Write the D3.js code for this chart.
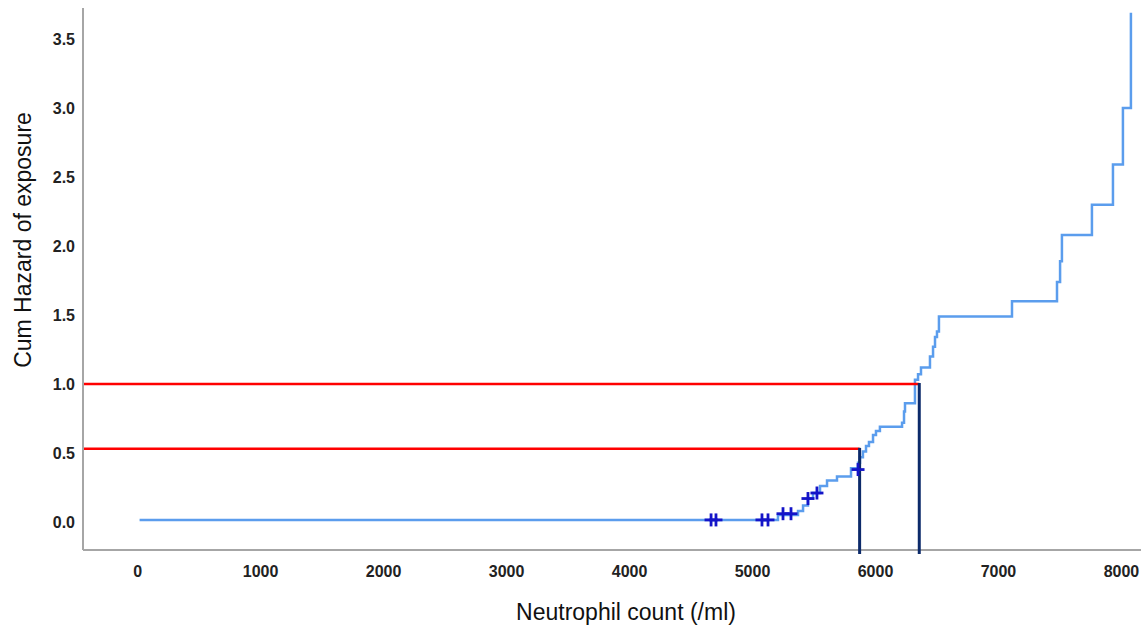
<!DOCTYPE html>
<html>
<head>
<meta charset="utf-8">
<script src="https://cdn.jsdelivr.net/npm/d3@7"></script>
<style>
  html, body { margin: 0; padding: 0; background: #ffffff; }
  svg { display: block; }
</style>
</head>
<body>
<svg id="chart" width="1141" height="631"></svg>
<script>
// ---- Data ----
// Step points of the cumulative hazard curve: neutrophil count and hazard after the step
const stepCounts  = [20, 5211, 5374, 5415, 5455, 5496, 5553, 5610, 5691, 5805, 5862, 5878, 5902, 5927, 5951, 5984, 6008, 6040, 6220, 6236, 6244, 6325, 6350, 6374, 6447, 6472, 6488, 6504, 6520, 7114, 7480, 7505, 7520, 7764, 7935, 8016, 8081];
const stepHazards = [0.015, 0.05, 0.08, 0.12, 0.17, 0.21, 0.26, 0.30, 0.33, 0.39, 0.43, 0.47, 0.51, 0.55, 0.58, 0.63, 0.66, 0.69, 0.72, 0.80, 0.86, 1.03, 1.07, 1.12, 1.20, 1.27, 1.34, 1.38, 1.49, 1.60, 1.74, 1.89, 2.08, 2.30, 2.59, 3.00, 3.69];
// Censored observations
const censorCounts  = [4667, 4707, 5081, 5130, 5252, 5317, 5455, 5528, 5862];
const censorHazards = [0.015, 0.015, 0.015, 0.015, 0.06, 0.06, 0.17, 0.21, 0.38];
// Reference (annotation) lines
const refCounts  = [5875, 6360];
const refHazards = [0.53, 1.0];
// Ticks
const xTicks = [0, 1000, 2000, 3000, 4000, 5000, 6000, 7000, 8000];
const yTicks = [0.0, 0.5, 1.0, 1.5, 2.0, 2.5, 3.0, 3.5];
const xTitle = "Neutrophil count (/ml)";
const yTitle = "Cum Hazard of exposure";

// ---- Layout ----
const svg = d3.select("#chart");
const mLeft = 83, mRight = 1141, mTop = 8, mBottom = 550;
const x = d3.scaleLinear().domain([-440, 8163]).range([mLeft, mRight]);
const y = d3.scaleLinear().domain([-0.203, 3.725]).range([mBottom, mTop]);

// Axes
const axisColor = "#a6a6a6";
const xAxis = d3.axisBottom(x).tickValues(xTicks).tickSize(0).tickPadding(16).tickFormat(d3.format("d"));
const yAxis = d3.axisLeft(y).tickValues(yTicks).tickSize(0).tickPadding(8).tickFormat(d3.format(".1f"));

const gx = svg.append("g").attr("transform", `translate(0,${mBottom})`).call(xAxis);
const gy = svg.append("g").attr("transform", `translate(${mLeft},0)`).call(yAxis);
[gx, gy].forEach(g => {
  g.select(".domain").remove();
  g.selectAll("text")
    .attr("font-family", "Liberation Sans, Arial, sans-serif")
    .attr("font-weight", "bold")
    .attr("font-size", 16)
    .attr("fill", "#222222");
});
gy.selectAll("text").attr("dy", "0.36em");

// axis lines
svg.append("line").attr("x1", mLeft).attr("x2", mLeft).attr("y1", mTop).attr("y2", mBottom)
  .attr("stroke", axisColor).attr("stroke-width", 2);
svg.append("line").attr("x1", mLeft).attr("x2", mRight).attr("y1", mBottom).attr("y2", mBottom)
  .attr("stroke", axisColor).attr("stroke-width", 2);

// ---- Curve ----
const pts = stepCounts.map((c, i) => [c, stepHazards[i]]);
const line = d3.line().x(d => x(d[0])).y(d => y(d[1])).curve(d3.curveStepAfter);
svg.append("path")
  .datum(pts)
  .attr("d", line)
  .attr("fill", "none")
  .attr("stroke", "#5b9ded")
  .attr("stroke-width", 2.5);

// ---- Reference lines ----
refCounts.forEach((c, i) => {
  svg.append("line")
    .attr("x1", mLeft + 1).attr("x2", x(c))
    .attr("y1", y(refHazards[i])).attr("y2", y(refHazards[i]))
    .attr("stroke", "#ff0000").attr("stroke-width", 2.5);
});
refCounts.forEach((c, i) => {
  svg.append("line")
    .attr("x1", x(c)).attr("x2", x(c))
    .attr("y1", y(refHazards[i]) - 1).attr("y2", mBottom + 4)
    .attr("stroke", "#0c2a6a").attr("stroke-width", 3);
});

// ---- Censor marks ----
const cg = svg.append("g");
censorCounts.forEach((c, i) => {
  const cx = x(c), cy = y(censorHazards[i]);
  cg.append("line").attr("x1", cx - 6.5).attr("x2", cx + 6.5).attr("y1", cy).attr("y2", cy)
    .attr("stroke", "#1414c8").attr("stroke-width", 2.8);
  cg.append("line").attr("x1", cx).attr("x2", cx).attr("y1", cy - 6.5).attr("y2", cy + 6.5)
    .attr("stroke", "#1414c8").attr("stroke-width", 2.8);
});

// ---- Titles ----
svg.append("text")
  .attr("x", 626).attr("y", 620)
  .attr("text-anchor", "middle")
  .attr("font-family", "Liberation Sans, Arial, sans-serif")
  .attr("font-size", 23)
  .attr("fill", "#111111")
  .text(xTitle);
svg.append("text")
  .attr("transform", "translate(31,240) rotate(-90)")
  .attr("text-anchor", "middle")
  .attr("font-family", "Liberation Sans, Arial, sans-serif")
  .attr("font-size", 23)
  .attr("fill", "#111111")
  .text(yTitle);
</script>
</body>
</html>
